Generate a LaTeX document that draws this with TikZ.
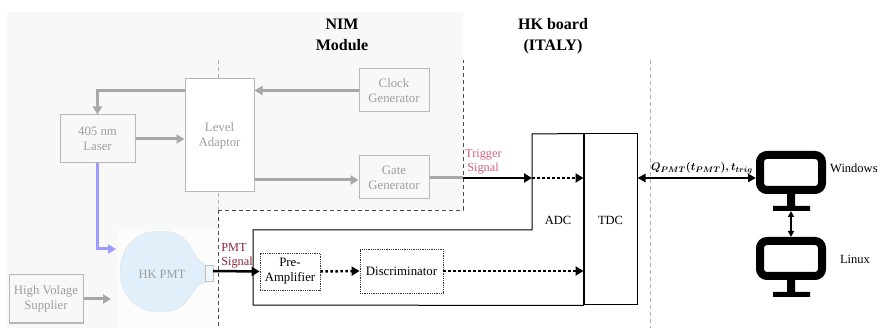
\documentclass[tikz,border=0pt]{standalone}
\usepackage{amsmath}
\usepackage{fontspec}
\setmainfont{Liberation Serif}
\usetikzlibrary{arrows.meta}
\definecolor{bggray}{HTML}{F8F8F8}
\definecolor{boxgray}{HTML}{B8B8B8}
\definecolor{txtgray}{HTML}{9E9E9E}
\definecolor{arrgray}{HTML}{A8A8A8}
\definecolor{laserblue}{HTML}{9C9CFF}
\definecolor{pmtfill}{HTML}{E0EFF9}
\definecolor{trigred}{HTML}{D2607A}
\definecolor{pmtred}{HTML}{8A2535}
\newcommand{\readoutlabel}{{\mathversion{bold}$Q_{PMT}(t_{PMT}),t_{trig}$}}
\tikzset{
  graybox/.style={draw=boxgray, line width=1pt, text=txtgray, align=center,
    font=\fontsize{12.8}{15}\selectfont, inner sep=0pt},
  dotbox/.style={draw=black!80, densely dotted, line width=0.8pt, align=center,
    font=\fontsize{12.8}{15}\selectfont, inner sep=0pt},
  grayarrow/.style={draw=arrgray, line width=3pt, -{Triangle[length=8pt,width=9pt]}},
  blackarrow/.style={draw=black, line width=2.5pt, -{Triangle[length=8pt,width=9pt]}},
  dotarrow/.style={draw=black, line width=2.5pt, dash pattern=on 2.5pt off 2.5pt,
    -{Triangle[length=8pt,width=9pt]}},
  sepline/.style={draw=black!70, line width=0.8pt, dash pattern=on 4pt off 3pt},
  lightsep/.style={draw=black!30, line width=0.8pt, dash pattern=on 4pt off 3pt},
  monitor/.style={draw=black, line width=8pt, rounded corners=7pt, fill=white,
    minimum width=62pt, minimum height=35pt, inner sep=0pt},
  title/.style={align=center, font=\bfseries\fontsize{16}{21}\selectfont},
  plain/.style={font=\fontsize{12.5}{14.5}\selectfont, inner sep=0pt},
  bothtips/.style={{Triangle[length=#1,width=#1]}-{Triangle[length=#1,width=#1]}}
}
\begin{document}
\begin{tikzpicture}[x=1pt,y=-1pt]
\useasboundingbox (0,0) rectangle (880,328);
% shaded NIM / laser area
\fill[bggray] (7,12) -- (463,12) -- (463,210) -- (218,210) -- (218,328) -- (7,328) -- cycle;
\fill[white!60!bggray] (118,230) rectangle (218,328);

% section titles
\node[title] (nim) at (342,35) {NIM\\Module};
\node[title] (hkb) at (553,36) {HK board\\(ITALY)};

% separators
\draw[lightsep] (218,60) -- (218,210);
\draw[sepline] (218,210) -- (218,328);
\draw[sepline] (218,210) -- (463,210) -- (463,60);
\draw[lightsep] (650,60) -- (650,328);

% NIM blocks
\node[graybox, minimum width=70pt, minimum height=43pt] (clock) at (394,90.5) {Clock\\Generator};
\node[graybox, minimum width=75pt, minimum height=48pt] (laser) at (97.5,139) {405 nm\\Laser};
\node[graybox, fill=white, minimum width=69pt, minimum height=113pt] (level) at (219.5,135.5) {Level\\Adaptor};
\node[graybox, minimum width=70pt, minimum height=43pt] (gate) at (394,177.5) {Gate\\Generator};
\node[graybox, minimum width=74pt, minimum height=48pt] (hv) at (46,299) {High Volage\\Supplier};

% NIM connections
\draw[grayarrow] (clock.west) -- (clock.west -| level.east);
\draw[grayarrow] (clock.west -| level.west) -| (laser.north);
\draw[grayarrow] (laser.east) -- (laser.east -| level.west);
\draw[grayarrow] (level.east |- 0,180) -- (gate.west |- 0,180);

% PMT bulb
\draw[black!12, fill=pmtfill, line width=0.4pt]
  (205,263) .. controls (190,262) and (196,231) .. (160,231)
  .. controls (132,231) and (120,252) .. (120,272)
  .. controls (120,293) and (134,312) .. (160,312)
  .. controls (194,312) and (190,283) .. (205,283) -- cycle;
\draw[black!25, fill=pmtfill!50!white, line width=0.5pt] (205,265) rectangle (213,281);
\node[plain, text=txtgray] (pmt) at (162,274) {HK PMT};
\coordinate (pmtout) at (213,271);
\coordinate (pmtin) at (116,249);
\coordinate (hvin) at (111,299);

\draw[draw=laserblue, line width=3pt, -{Triangle[length=8pt,width=9pt]}]
  (laser.south) |- (pmtin);
\draw[grayarrow] (hv.east) -- (hvin);

% HK board
\node[draw=black, line width=1pt, minimum width=53pt, minimum height=171pt, inner sep=0pt] (tdc) at (610.5,219.5) {};
\node[plain] (tdclabel) at (610.5,220) {TDC};
\coordinate (adcnw) at (532,134);
\draw[black, line width=1pt] (253,230) -- (532,230) -- (adcnw) -- (tdc.north west) -- (tdc.south west) -- (253,305) -- cycle;
\node[plain] (adclabel) at (558,220) {ADC};

\node[dotbox, minimum width=60pt, minimum height=37pt] (pre) at (290,271.5) {Pre-\\Amplifier};
\node[dotbox, minimum width=83pt, minimum height=44pt] (disc) at (401.5,271) {Discriminator};

% trigger path
\coordinate (trig) at (463,178);
\draw[draw=arrgray, line width=3pt] (gate.east |- trig) -- (trig);
\draw[blackarrow] (trig) -- (trig -| adcnw);
\draw[dotarrow] (trig -| adcnw) -- (trig -| tdc.west);
\node[anchor=west, text=trigred, align=left, font=\fontsize{12.3}{14}\selectfont, inner sep=0pt] (trigtxt) at (465,162) {Trigger\\\,Signal};

% PMT signal path
\draw[blackarrow] (pmtout) -- (pre.west);
\node[text=pmtred, align=left, font=\fontsize{12.3}{14}\selectfont, inner sep=0pt] (pmtsig) at (237,256) {PMT\\Signal};
\draw[dotarrow] (pre.east) -- (disc.west);
\draw[dotarrow] (disc.east) -- (disc.east -| tdc.west);

% computers
\node[monitor] (win) at (791,172.5) {};
\fill[black] (787,194) rectangle (795,207) (773,206) rectangle (810,211);
\coordinate (winbase) at (791,211);
\node[monitor] (lin) at (791,258.5) {};
\fill[black] (787,280) rectangle (795,293) (773,292) rectangle (810,297);
\node[plain, anchor=west] (wintxt) at (830,168) {Windows};
\node[plain] (lintxt) at (855,259) {Linux};
\node[font=\fontsize{11}{13}\selectfont, inner sep=0pt] (qlabel) at (702,168) {\readoutlabel};

\draw[black, line width=2pt, bothtips=6pt] (winbase) -- (lin.north);
\draw[black, line width=2pt, bothtips=8pt] (tdc.east |- trig) -- (win.west |- trig);
\end{tikzpicture}
\end{document}
